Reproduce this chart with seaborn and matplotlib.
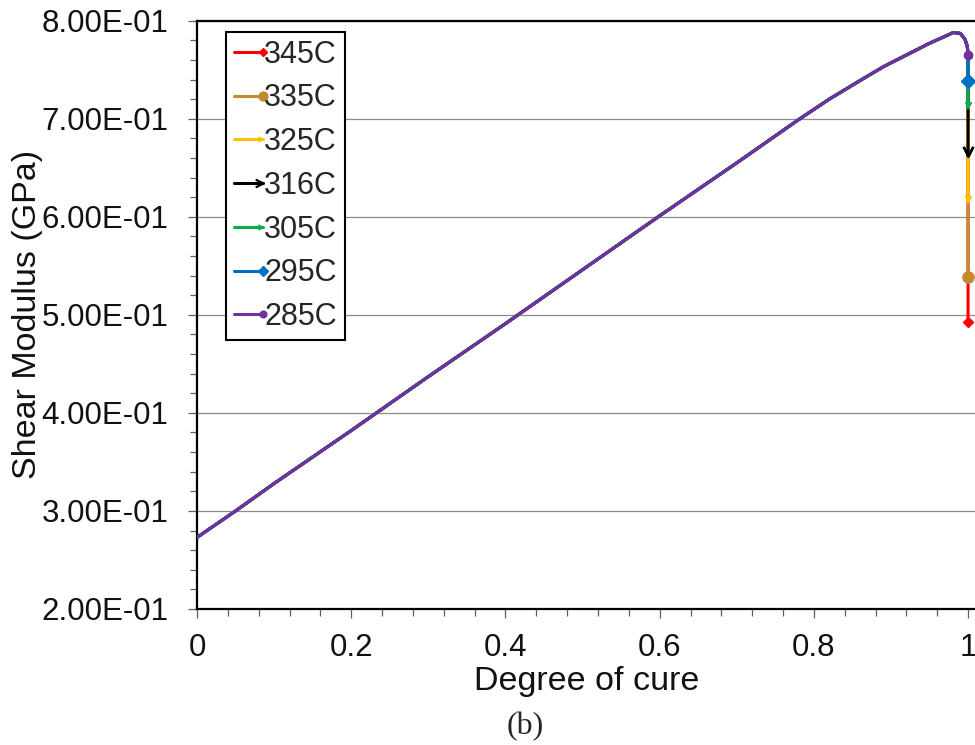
import numpy as np
import pandas as pd
import matplotlib
matplotlib.use("Agg")
import matplotlib.pyplot as plt
import seaborn as sns
from matplotlib.lines import Line2D
from matplotlib.ticker import MultipleLocator, FuncFormatter

# ---- data ----
cure = [0.0, 0.05, 0.1, 0.2, 0.3, 0.4, 0.5, 0.6, 0.7, 0.78, 0.82, 0.86, 0.89,
        0.925, 0.95, 0.97, 0.981, 0.99, 0.996, 0.999, 1.0]
modulus = [0.273, 0.300, 0.328, 0.382, 0.437, 0.491, 0.546, 0.601, 0.655, 0.699,
           0.720, 0.739, 0.753, 0.767, 0.777, 0.784, 0.788, 0.787, 0.781, 0.774, 0.765]
temps = ["345C", "335C", "325C", "316C", "305C", "295C", "285C"]
end_modulus = [0.493, 0.539, 0.615, 0.662, 0.711, 0.739, 0.765]
colors = ["#FF0000", "#C48A2E", "#FFC000", "#000000", "#00B050", "#0070C0", "#7030A0"]
y_ticks = [0.2, 0.3, 0.4, 0.5, 0.6, 0.7, 0.8]
x_ticks = [0, 0.2, 0.4, 0.6, 0.8, 1.0]

sns.set_style("ticks")
plt.rcParams["font.family"] = ["Liberation Sans", "DejaVu Sans"]

fig = plt.figure(figsize=(9.75, 7.45), dpi=100)
ax = fig.add_axes([0.2021, 0.1826, 0.7987, 0.7896])

# marker shapes (tip at the data point)
down_tri = [(-0.55, 1.1), (0, 0), (0.55, 1.1)]
right_tri = [(-1.1, 0.55), (0, 0), (-1.1, -0.55)]
plot_markers = ["D", "o", down_tri, down_tri, down_tri, "D", "o"]
leg_markers = ["D", "o", right_tri, right_tri, right_tri, "D", "o"]
msizes = [5, 8, 9, 14, 9, 7, 6]
filled = [True, True, True, False, True, True, True]

handles = []
for i, t in enumerate(temps):
    xs = list(cure)
    ys = list(modulus)
    if end_modulus[i] != modulus[-1]:
        xs.append(cure[-1])
        ys.append(end_modulus[i])
    df = pd.DataFrame({"cure": xs, "mod": ys})
    sns.lineplot(data=df, x="cure", y="mod", sort=False, estimator=None,
                 color=colors[i], lw=2.2, ax=ax, legend=False, zorder=3 + i)
    fc = colors[i] if filled[i] else "none"
    ax.plot([xs[-1]], [ys[-1]], marker=plot_markers[i], ms=msizes[i],
            color=colors[i], mfc=fc, mec=colors[i], mew=2 if not filled[i] else 1,
            ls="none", zorder=3 + i, clip_on=False)
    handles.append(Line2D([0], [0], color=colors[i], lw=2.2, marker=leg_markers[i],
                          ms=msizes[i] * 0.8, mfc=fc, mec=colors[i],
                          mew=1.6 if not filled[i] else 1, label=t))

ax.set_xlim(0, 1.01)
ax.set_ylim(0.2, 0.8)
ax.set_xticks(x_ticks)
ax.set_yticks(y_ticks)
ax.xaxis.set_major_formatter(FuncFormatter(lambda v, p: f"{v:g}"))
ax.yaxis.set_major_formatter(FuncFormatter(lambda v, p: f"{v:.2E}"))
ax.xaxis.set_minor_locator(MultipleLocator(0.04))
ax.yaxis.set_minor_locator(MultipleLocator(0.02))

ax.grid(axis="y", which="major", color="#8c8c8c", lw=0.9, zorder=0)
ax.grid(axis="x", visible=False)
ax.set_axisbelow(True)

for s in ["left", "bottom", "top"]:
    ax.spines[s].set_color("black")
    ax.spines[s].set_linewidth(1.6)
ax.spines["right"].set_visible(False)

ax.tick_params(axis="both", which="major", direction="out", length=6.5, width=0.9,
               color="#606060", labelsize=22.5, labelcolor="#111111")
ax.tick_params(axis="y", which="major", pad=14)
ax.tick_params(axis="x", which="major", pad=11)
ax.tick_params(axis="both", which="minor", direction="out", length=5, width=0.9,
               color="#606060")

ax.set_xlabel("Degree of cure", fontsize=24.5, labelpad=2, color="#111111")
ax.set_ylabel("Shear Modulus (GPa)", fontsize=24.5, labelpad=-1, color="#111111")

leg = ax.legend(handles=handles, loc="upper left", bbox_to_anchor=(0.0372, 0.981),
                borderaxespad=0, fontsize=22, handlelength=0.95, handletextpad=0.05,
                labelspacing=0.45, borderpad=0.25, frameon=True, fancybox=False,
                framealpha=1, edgecolor="black")
leg.get_frame().set_linewidth(1.5)
for l in leg.get_lines():
    l.set_markevery([2])

fig.text(525 / 975, 1 - 727 / 745, "(b)", ha="center", va="center", fontsize=23,
         family=["Liberation Serif", "DejaVu Serif"])

fig.savefig("out.png", dpi=100)
